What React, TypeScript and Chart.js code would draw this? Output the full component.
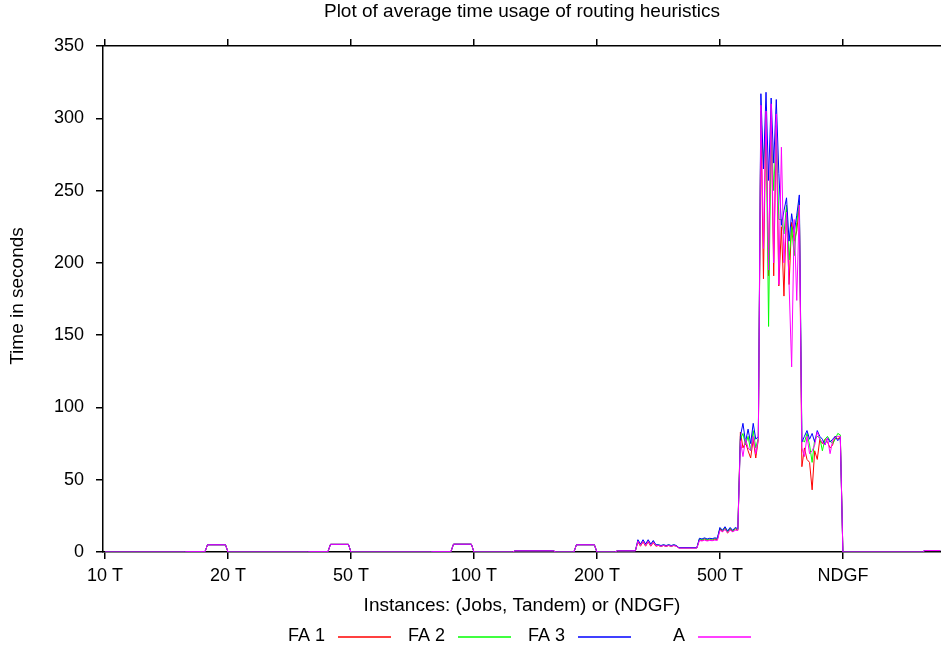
import React, { useEffect, useRef } from "react";
import { Chart, registerables } from "chart.js";

Chart.register(...registerables);

const FONT = "'Liberation Sans', Arial, Helvetica, sans-serif";
const FS = 18;
const FS_TITLE = 19;

const titleText = "Plot of average time usage of routing heuristics";
const xTitle = "Instances: (Jobs, Tandem) or (NDGF)";
const yTitle = "Time in seconds";

// x axis: instance index, one tick per instance group
const tickPositions = [0, 48, 96, 144, 192, 240, 288];
const tickLabels = ["10 T", "20 T", "50 T", "100 T", "200 T", "500 T", "NDGF"];
const yTickValues = [0, 50, 100, 150, 200, 250, 300, 350];

const seriesNames = ["FA 1", "FA 2", "FA 3", "A"];
const seriesColors = ["#ff0000", "#00ff00", "#0000ff", "#ff00ff"];

// Flat low part (10 T .. start of 200 T), shared by all heuristics
const xLow = [0, 31, 32, 39, 40, 47, 48, 79, 80, 87, 88, 95, 96, 127, 128, 135, 136, 143, 144, 159, 160, 175, 176, 183, 184, 191, 192, 199, 200, 207];
const yLow = [0, 0, 0.2, 0.2, 5, 5, 0, 0, 0.2, 0.2, 5.3, 5.3, 0, 0, 0.2, 0.2, 5.4, 5.4, 0, 0, 0.8, 0.8, 0, 0, 5, 5, 0, 0, 0.8, 0.8];

// Detailed part (rest of 200 T and 500 T)
const xDetail = [
  208, 209, 210, 211, 212, 213, 214, 215,
  216, 217, 218, 219, 220, 221, 222, 223,
  224, 231,
  232, 233, 234, 235, 236, 237, 238, 239,
  240, 241, 242, 243, 244, 245, 246, 247,
  248, 249, 250, 251, 252, 253, 254, 255,
  256, 257, 258, 259, 260, 261, 262, 263,
  264, 265, 266, 267, 268, 269, 270, 271,
  272, 273, 274, 275, 276, 277, 278, 279,
  280, 281, 282, 283, 284, 285, 286, 287,
];

const fa1Detail = [
  7, 4, 7, 4, 7, 4, 6.5, 4,
  4.5, 3.8, 4.5, 3.8, 4.5, 3.8, 4.5, 4,
  2.8, 2.8,
  8.5, 8, 8.8, 8, 8.5, 8.2, 8.8, 8.5,
  16, 14, 16.5, 13, 16, 14, 16, 15,
  83, 72, 76, 70, 65, 78, 65, 78,
  300, 189, 305, 191, 300, 191, 295, 184,
  225, 177, 238, 185, 228, 215, 222, 240,
  59, 72, 64, 62, 43, 70, 64, 78,
  75, 78, 76, 72, 74, 80, 78, 80,
];

const fa2Detail = [
  8, 5, 8, 5, 8, 5, 7.5, 4.5,
  5, 4.2, 5, 4.2, 5, 4.2, 5, 4.3,
  2.9, 2.9,
  9, 8.6, 9.3, 8.6, 9, 8.8, 9.3, 9,
  16.5, 15, 17, 14, 16.5, 14.5, 16.5, 15.5,
  78, 82, 74, 80, 70, 84, 72, 79,
  305, 265, 300, 156, 295, 250, 290, 230,
  230, 220, 240, 202, 225, 205, 228, 243,
  78, 76, 82, 74, 62, 78, 80, 79,
  70, 78, 80, 77, 75, 78, 82, 81,
];

const fa3Detail = [
  8.5, 5.5, 8.5, 5.5, 8.5, 5.5, 8, 5,
  5, 4.5, 5, 4.5, 5, 4.5, 5, 4.5,
  3, 3,
  9.5, 9, 9.8, 9, 9.5, 9.2, 9.8, 9.5,
  17, 15, 17.5, 14.5, 17, 15, 17, 16,
  80, 89, 76, 85, 75, 89, 78, 80,
  317, 265, 318, 257, 314, 269, 313, 262,
  226, 236, 245, 215, 234, 221, 233, 247,
  76, 80, 84, 78, 82, 76, 84, 80,
  78, 74, 79, 76, 78, 80, 77, 79,
];

const aDetail = [
  7.5, 4.5, 7.5, 4.5, 7.5, 4.5, 7, 4.5,
  4.5, 4, 4.5, 4, 4.5, 4, 4.5, 4,
  2.7, 2.7,
  8, 7.6, 8.2, 7.6, 8, 7.8, 8.2, 8,
  15, 14, 15.5, 13.5, 15, 14, 15, 15,
  77, 66, 78, 72, 70, 80, 68, 78,
  309, 210, 305, 195, 310, 200, 303, 185,
  280, 200, 235, 185, 128, 230, 174, 240,
  72, 66, 80, 68, 70, 74, 83, 78,
  76, 74, 79, 68, 77, 79, 80, 80,
];

// NDGF part, shared
const xTail = [288, 319, 320, 326];
const yTail = [0, 0, 1, 1];

const seriesDetails = [fa1Detail, fa2Detail, fa3Detail, aDetail];

const W = 941;
const H = 650;

function buildPoints(detail: number[]) {
  const xs = [...xLow, ...xDetail, ...xTail];
  const ys = [...yLow, ...detail, ...yTail];
  return xs.map((x, i) => ({ x, y: ys[i] }));
}

const overlayPlugin = {
  id: "overlay",
  afterDraw(chart: any) {
    const ctx = chart.ctx as CanvasRenderingContext2D;
    const ca = chart.chartArea;
    ctx.save();
    ctx.fillStyle = "#000";
    ctx.font = `${FS_TITLE}px ${FONT}`;
    ctx.textAlign = "center";
    ctx.textBaseline = "middle";
    const cx = (ca.left + ca.right) / 2;
    ctx.fillText(titleText, cx, 12);
    ctx.fillText(xTitle, cx, 606);
    ctx.save();
    ctx.translate(18, 296);
    ctx.rotate(-Math.PI / 2);
    ctx.fillText(yTitle, 0, 0);
    ctx.restore();
    // legend (gnuplot style: label then line sample)
    ctx.font = `${FS}px ${FONT}`;
    for (let i = 0; i < seriesNames.length; i++) {
      const right = 325 + 120 * i;
      ctx.textAlign = "right";
      ctx.fillStyle = "#000";
      ctx.fillText(seriesNames[i], right, 636);
      ctx.strokeStyle = seriesColors[i];
      ctx.lineWidth = 1.4;
      ctx.beginPath();
      ctx.moveTo(right + 13, 637);
      ctx.lineTo(right + 66, 637);
      ctx.stroke();
    }
    ctx.restore();
  },
};

export default function App() {
  const ref = useRef<HTMLCanvasElement | null>(null);
  useEffect(() => {
    if (!ref.current) return;
    const datasets = seriesNames.map((name, i) => ({
      label: name,
      data: buildPoints(seriesDetails[i]),
      borderColor: seriesColors[i],
      backgroundColor: seriesColors[i],
      borderWidth: 1,
      pointRadius: 0,
      tension: 0,
      fill: false,
      order: seriesNames.length - 1 - i,
    }));
    const setTicks = (s: any) => {
      s.ticks = tickPositions.map((v) => ({ value: v }));
    };
    const chart = new Chart(ref.current, {
      type: "line",
      data: { datasets },
      plugins: [overlayPlugin],
      options: {
        animation: false,
        responsive: false,
        devicePixelRatio: 1,
        layout: { padding: 0 },
        plugins: {
          legend: { display: false },
          title: { display: false },
          tooltip: { enabled: false },
        },
        scales: {
          x: {
            type: "linear",
            position: "bottom",
            min: -0.8,
            max: 326.3,
            afterBuildTicks: setTicks,
            afterFit: (s: any) => {
              s.height = H - 552;
            },
            grid: { drawOnChartArea: false, drawTicks: true, tickLength: 7, color: "#000", lineWidth: 1.5 },
            border: { display: true, color: "#000", width: 1.5 },
            ticks: {
              color: "#000",
              font: { family: FONT, size: FS },
              padding: 6,
              maxRotation: 0,
              autoSkip: false,
              callback: (v: any) => {
                const k = tickPositions.indexOf(Number(v));
                return k >= 0 ? tickLabels[k] : "";
              },
            },
          },
          x2: {
            type: "linear",
            position: "top",
            min: -0.8,
            max: 326.3,
            afterBuildTicks: setTicks,
            afterFit: (s: any) => {
              s.height = 46;
            },
            grid: { drawOnChartArea: false, drawTicks: true, tickLength: 7, color: "#000", lineWidth: 1.5 },
            border: { display: true, color: "#000", width: 1.5 },
            ticks: { display: false },
          },
          y: {
            type: "linear",
            position: "left",
            min: 0,
            max: 350,
            afterBuildTicks: (s: any) => {
              s.ticks = yTickValues.map((v) => ({ value: v }));
            },
            afterFit: (s: any) => {
              s.width = 103;
            },
            grid: { drawOnChartArea: false, drawTicks: true, tickLength: 7, color: "#000", lineWidth: 1.5 },
            border: { display: true, color: "#000", width: 1.5 },
            ticks: {
              color: "#000",
              font: { family: FONT, size: FS },
              padding: 12,
            },
          },
        },
      },
    });
    return () => chart.destroy();
  }, []);
  return (
    <div style={{ position: "absolute", left: 0, top: 0, width: W, height: H, background: "#fff" }}>
      <canvas ref={ref} width={W} height={H} style={{ display: "block", width: W, height: H }} />
    </div>
  );
}
